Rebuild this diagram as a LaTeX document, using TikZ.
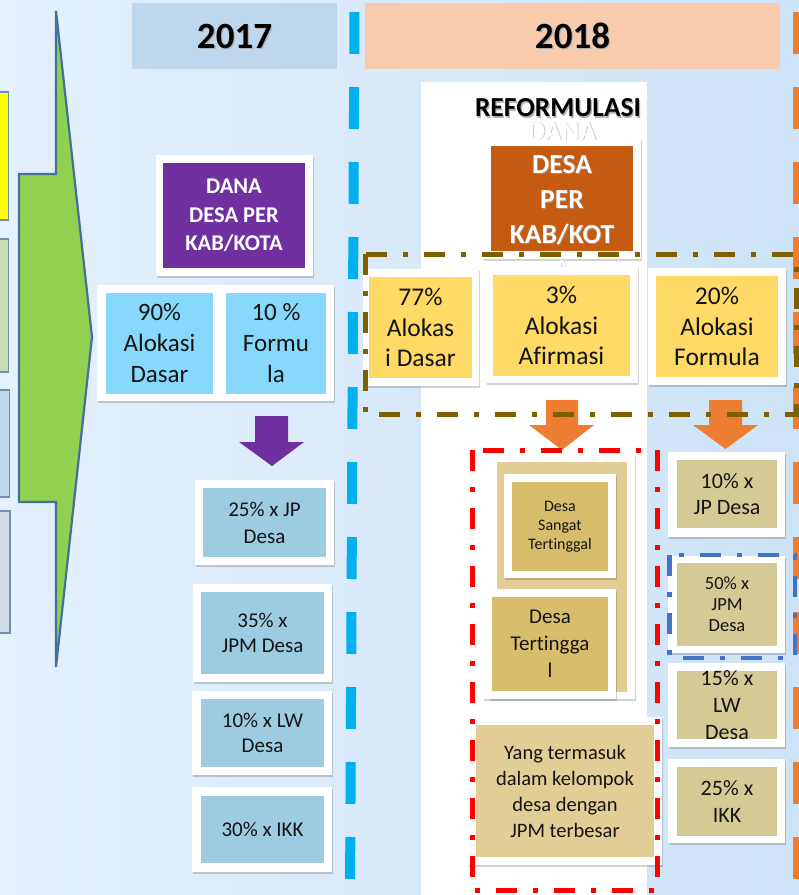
\documentclass[tikz,border=0pt]{standalone}
\usepackage{fontspec}
\setmainfont{Carlito}[Ligatures={NoCommon}]
\usetikzlibrary{shadows,fit}

\definecolor{bgL}{HTML}{E4F0FC}
\definecolor{bgR}{HTML}{CDE3F7}
\definecolor{hdA}{HTML}{BDD7EE}
\definecolor{hdB}{HTML}{F8CBAD}
\definecolor{cyanDash}{HTML}{00B0F0}
\definecolor{orangeMs}{HTML}{ED7D31}
\definecolor{arrowGreen}{HTML}{92D050}
\definecolor{arrowEdge}{HTML}{41719C}
\definecolor{sideEdge}{HTML}{6F8FB2}
\definecolor{sideY}{HTML}{FFFF00}
\definecolor{sideG}{HTML}{C5E0B4}
\definecolor{sideB}{HTML}{BDD7EE}
\definecolor{sideS}{HTML}{D6DCE5}
\definecolor{purpleMs}{HTML}{7030A0}
\definecolor{rustMs}{HTML}{C55A11}
\definecolor{skyFill}{HTML}{87D8FA}
\definecolor{steelFill}{HTML}{9DCBE2}
\definecolor{goldFill}{HTML}{FFD966}
\definecolor{brownDash}{HTML}{7F6000}
\definecolor{tanFill}{HTML}{E2CE94}
\definecolor{ochreFill}{HTML}{D8BE6C}
\definecolor{khakiFill}{HTML}{D4CA96}
\definecolor{blueDash}{HTML}{4472C4}

\begin{document}
\begin{tikzpicture}[x=1pt, y=-1pt,
  frame/.style={fill=white, inner sep=0pt, outer sep=0pt,
    drop shadow={shadow xshift=1.2pt, shadow yshift=-1.8pt, opacity=0.25, fill=black!70}},
  cell/.style={inner sep=0pt, outer sep=0pt},
  side/.style={draw=sideEdge, line width=1.5pt, inner sep=0pt, outer sep=0pt},
  txt/.style={align=center, inner sep=0pt, text=black!92},
  yeartxt/.style={inner sep=0pt, font=\fontsize{37}{40}\selectfont\bfseries},
  kabtxt/.style={txt, font=\fontsize{27.5}{35}\selectfont\bfseries},
  kabshadow/.style={kabtxt, text=black!35, opacity=0.6, xshift=0.9pt, yshift=-0.9pt},
  dashdot/.style={line width=5pt, dash pattern=on 21pt off 16pt on 5pt off 16pt},
  vdash/.style={line width=10pt, dash pattern=on 42pt off 33pt}
]
\useasboundingbox (0,0) rectangle (799,895);
\clip (0,0) rectangle (799,895);

% background
\shade[left color=bgL, right color=bgR] (0,0) rectangle (799,895);

% stacked boxes at the left edge
\node[side, fill=sideY, fit={(-6,92)(8.5,220)}] (s1) {};
\node[side, fill=sideG, fit={(-6,239)(8.5,372)}] (s2) {};
\node[side, fill=sideB, fit={(-6,390)(9.5,497)}] (s3) {};
\node[side, fill=sideS, fit={(-6,511)(10,633)}] (s4) {};

% large green arrow
\draw[fill=arrowGreen, draw=arrowEdge, line width=2.2pt, line join=miter]
  (19,174) -- (56,174) -- (56,11) -- (92,337) -- (56,667) -- (56,502) -- (19,502) -- cycle;

% year headers
\node[cell, fill=hdA, fit={(132,3)(337,69)}] (h17) {};
\node[yeartxt, text=black!30, xshift=1.3pt, yshift=-1.3pt] (y17s) at (h17.center) {2017};
\node[yeartxt] (y17) at (h17.center) {2017};
\node[cell, fill=hdB, fit={(365,3)(780,69)}] (h18) {};
\node[yeartxt, text=black!30, xshift=1.3pt, yshift=-1.3pt] (y18s) at (h18.center) {2018};
\node[yeartxt] (y18) at (h18.center) {2018};

% column separators
\coordinate (sepAtop) at (354.5,12);
\coordinate (sepAbot) at (350,900);
\draw[vdash, cyanDash] (sepAtop) -- (sepAbot);
\coordinate (sepBtop) at (797.5,12);
\coordinate (sepBbot) at (797.5,900);
\draw[vdash, orangeMs] (sepBtop) -- (sepBbot);

% ---------- 2017 ----------
\node[frame, fit={(156,155)(313,276)}] (fDana) {};
\node[cell, fill=purpleMs, fit={(163,163)(305,268)}] (bDana) {};
\node[txt, text=white, font=\fontsize{22.5}{28.5}\selectfont\bfseries] (tDana) at (bDana.center) {DANA\\DESA PER\\KAB/KOTA};

\node[frame, fit={(97,285)(221,401)}] (fDasar) {};
\node[cell, fill=skyFill, fit={(106,293)(213,394)}] (bDasar) {};
\node[txt, font=\fontsize{25}{31}\selectfont] (tDasar) at (bDasar.center) {90\%\\Alokasi\\Dasar};

\node[frame, fit={(221,285)(334,401)}] (fForm) {};
\node[cell, fill=skyFill, fit={(226,293)(326,394)}] (bForm) {};
\node[txt, font=\fontsize{25}{31}\selectfont] (tForm) at (bForm.center) {10 \%\\Formu\\la};

% purple block arrow
\fill[purpleMs] (255,416) -- (288,416) -- (288,442) -- (304,442) -- (272,466) -- (239,442) -- (255,442) -- cycle;

\node[frame, fit={(195,480)(334,565)}] (fJP) {};
\node[cell, fill=steelFill, fit={(203,488)(326,557)}] (bJP) {};
\node[txt, font=\fontsize{21}{27}\selectfont] (tJP) at (bJP.center) {25\% x JP\\Desa};

\node[frame, fit={(193,584)(332,682)}] (fJPM) {};
\node[cell, fill=steelFill, fit={(201,592)(324,674)}] (bJPM) {};
\node[txt, font=\fontsize{21}{25}\selectfont] (tJPM) at (bJPM.center) {35\% x\\JPM Desa};

\node[frame, fit={(192,691)(332,775)}] (fLW) {};
\node[cell, fill=steelFill, fit={(201,699)(324,767)}] (bLW) {};
\node[txt, font=\fontsize{21}{25}\selectfont] (tLW) at (bLW.center) {10\% x LW\\Desa};

\node[frame, fit={(192,787)(332,872)}] (fIKK) {};
\node[cell, fill=steelFill, fit={(201,796)(324,863)}] (bIKK) {};
\node[txt, font=\fontsize{21}{25}\selectfont] (tIKK) at (bIKK.center) {30\% x IKK};

% ---------- 2018 ----------
\node[cell, fill=white, fit={(421,82)(647,900)}] (panel) {};
\node[txt, text=black!30, font=\fontsize{27.5}{30}\selectfont\bfseries, xshift=1.2pt, yshift=-1.2pt] (reTitleS) at (558,108) {REFORMULASI};
\node[txt, text=black, font=\fontsize{27.5}{30}\selectfont\bfseries] (reTitle) at (558,108) {REFORMULASI};

\node[frame, fit={(483,138)(641,259)}] (fKab) {};
\node[cell, fill=rustMs, fit={(491,146)(633,251)}] (bKab) {};
% white title text, its first and last lines spilling outside the box
\node[kabshadow, anchor=base] (tDanaKS) at (562,140) {DANA};
\node[kabtxt, text=white, anchor=base] (tDanaK) at (562,140) {DANA};
\node[kabshadow] (tKabS) at (562,216.6) {DESA\\PER\\KAB/KOT\\A};
\node[kabtxt, text=white] (tKab) at (562,216.6) {DESA\\PER\\KAB/KOT\\A};

\node[frame, fit={(363,269)(479,386)}] (fA77) {};
\node[cell, fill=goldFill, fit={(369,277)(472,378)}] (bA77) {};
\node[txt, font=\fontsize{25.5}{30.5}\selectfont] (tA77) at (bA77.center) {77\%\\Alokas\\i Dasar};

\node[frame, fit={(486,267)(638,383)}] (fA3) {};
\node[cell, fill=goldFill, fit={(493,275)(630,376)}] (bA3) {};
\node[txt, font=\fontsize{25.5}{30.5}\selectfont] (tA3) at (bA3.center) {3\%\\Alokasi\\Afirmasi};

\node[frame, fit={(648,268)(786,385)}] (fA20) {};
\node[cell, fill=goldFill, fit={(656,276)(778,377)}] (bA20) {};
\node[txt, font=\fontsize{25.5}{30.5}\selectfont] (tA20) at (bA20.center) {20\%\\Alokasi\\Formula};

% orange block arrows
\fill[orangeMs] (546,400) -- (578,400) -- (578,425) -- (594,425) -- (562,450) -- (529,425) -- (546,425) -- cycle;
\fill[orangeMs] (709,400) -- (742,400) -- (742,425) -- (758,425) -- (725.5,449) -- (693,425) -- (709,425) -- cycle;

% dash-dot group around the three allocations
\draw[dashdot, brownDash] (365,254) rectangle (796,414);

% village groups
\node[frame, fit={(489,454)(635,699)}] (fGrp) {};
\node[cell, fill=tanFill, fit={(497,462)(627,692)}] (bGrp) {};

\node[frame, fit={(504,474)(616,578)}] (fDST) {};
\node[cell, fill=ochreFill, fit={(512,482)(608,571)}] (bDST) {};
\node[txt, font=\fontsize{16}{19}\selectfont] (tDST) at (bDST.center) {Desa\\Sangat\\Tertinggal};

\node[frame, fit={(483,589)(616,699)}] (fDT) {};
\node[cell, fill=ochreFill, fit={(492,597)(608,691)}] (bDT) {};
\node[txt, font=\fontsize{21}{27}\selectfont] (tDT) at (bDT.center) {Desa\\Tertingga\\l};

\node[frame, fit={(468,717)(662,865)}] (fYang) {};
\node[cell, fill=tanFill, fit={(476,725)(654,857)}] (bYang) {};
\node[txt, font=\fontsize{20.5}{26}\selectfont] (tYang) at (bYang.center) {Yang termasuk\\dalam kelompok\\desa dengan\\JPM terbesar};

% formula components
\node[frame, fit={(668,452)(785,537)}] (fR1) {};
\node[cell, fill=khakiFill, fit={(677,460)(777,528)}] (bR1) {};
\node[txt, font=\fontsize{22}{26}\selectfont] (tR1) at (bR1.center) {10\% x\\JP Desa};

\node[frame, fit={(668,556)(785,653)}] (fR2) {};
\node[cell, fill=khakiFill, fit={(677,563)(777,646)}] (bR2) {};
\node[txt, font=\fontsize{18.5}{21}\selectfont] (tR2) at (bR2.center) {50\% x\\JPM\\Desa};

\node[frame, fit={(668,663)(785,747)}] (fR3) {};
\node[cell, fill=khakiFill, fit={(677,671)(777,739)}] (bR3) {};
\node[txt, font=\fontsize{22}{27}\selectfont] (tR3) at (bR3.center) {15\% x\\LW\\Desa};

\node[frame, fit={(668,759)(785,843)}] (fR4) {};
\node[cell, fill=khakiFill, fit={(677,767)(777,836)}] (bR4) {};
\node[txt, font=\fontsize{22}{27}\selectfont] (tR4) at (bR4.center) {25\% x\\IKK};

% dash-dot group outlines
\draw[dashdot, red] (472,450) rectangle (657,890);
\draw[dashdot, blueDash, line width=4.5pt] (669.5,555) rectangle (795,658);

\end{tikzpicture}
\end{document}
